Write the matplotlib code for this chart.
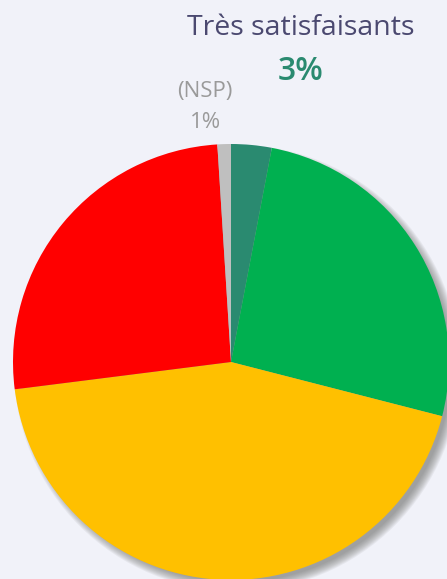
import matplotlib.pyplot as plt
from matplotlib.patches import Circle

# slices, clockwise from the top
labels = ["Très satisfaisants", "Satisfaisants", "Peu satisfaisants", "Pas satisfaisants", "(NSP)"]
values = [3, 26, 44, 26, 1]
colors = ["#2a8a70", "#00b050", "#ffc000", "#ff0000", "#bfbfbf"]

W, H = 447, 579
cx, cy, r = 231, H - 362, 218

fig = plt.figure(figsize=(W / 100, H / 100), dpi=100)
fig.patch.set_facecolor("#f1f2f9")
ax = fig.add_axes([0, 0, 1, 1])
ax.set_facecolor("#f1f2f9")

# soft shadow under the pie
for k in range(10):
    ax.add_patch(Circle((cx + 6, cy - 6), r + 5 - k, color="#707070", alpha=0.09, lw=0, zorder=0))

ax.pie(values, colors=colors, startangle=90, counterclock=False, center=(cx, cy), radius=r,
       wedgeprops=dict(linewidth=0))

ax.set_xlim(0, W)
ax.set_ylim(0, H)
ax.set_aspect("equal")
ax.axis("off")

ax.text(301, H - 28, labels[0], ha="center", va="center", fontsize=20.5,
        family="Open Sans", color="#4b4970")
ax.text(301, H - 71, f"{values[0]}%", ha="center", va="center", fontsize=23,
        family="Open Sans", fontweight="semibold", color=colors[0])
ax.text(205, H - 92, labels[4], ha="center", va="center", fontsize=16,
        family="Open Sans", color="#9a9a9a")
ax.text(206, H - 123, f"{values[4]}%", ha="center", va="center", fontsize=16,
        family="Open Sans", color="#9a9a9a")

fig.savefig("out.png", dpi=100)
